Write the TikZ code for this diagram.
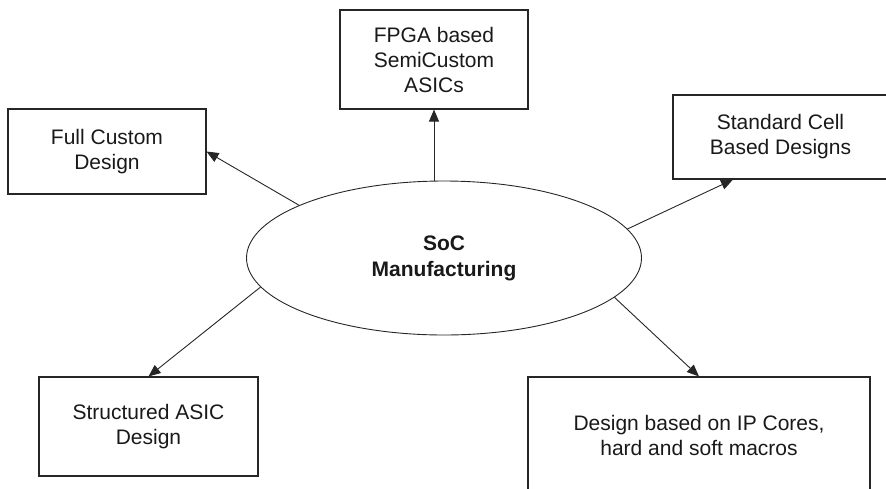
\documentclass[tikz,border=0pt]{standalone}
\usepackage{fontspec}
\setmainfont{Liberation Sans}
\usetikzlibrary{shapes.geometric,arrows.meta,calc}
\begin{document}
\begin{tikzpicture}[x=1pt,y=-1pt,
  box/.style={draw=black!85,line width=1.1pt,rectangle,inner sep=0pt,align=center,
    font=\fontsize{21}{25}\selectfont,text=black!90},
  hub/.style={draw=black!85,line width=0.9pt,ellipse,inner sep=0pt,
    minimum width=395pt,minimum height=154pt,align=center,
    font=\bfseries\fontsize{21}{26}\selectfont,text=black!90},
  link/.style={draw=black!85,line width=0.9pt,-{Triangle[length=12pt,width=10pt]}}]
\useasboundingbox (0,0) rectangle (886,488);
\clip (0,0) rectangle (886,488);

% outer boxes
\node[box,minimum width=198pt,minimum height=85pt] (fc) at (107,151.5) {Full Custom\\Design};
\node[box,minimum width=188pt,minimum height=99pt] (fpga) at (434,59.5) {FPGA based\\SemiCustom\\ASICs};
\node[box,minimum width=215pt,minimum height=84pt] (std) at (780.5,137) {Standard Cell\\Based Designs};
\node[box,minimum width=219pt,minimum height=99pt] (sa) at (148.5,426.5) {Structured ASIC\\Design};
\node[box,minimum width=342pt,minimum height=117pt] (ip) at (699,435.5) {Design based on IP Cores,\\hard and soft macros};

% central ellipse
\node[hub] (soc) at (444,258) {SoC\\Manufacturing};

% connectors
\draw[link] (soc.160.9) -- (fc.east);
\draw[link] (soc.north -| fpga.south) -- (fpga.south);
\draw[link] (soc.9.7) -- ($(std.south west)!0.28!(std.south east)$);
\draw[link] (soc.189) -- (sa.north);
\draw[link] (soc.347.2) -- (ip.north);
\end{tikzpicture}
\end{document}
